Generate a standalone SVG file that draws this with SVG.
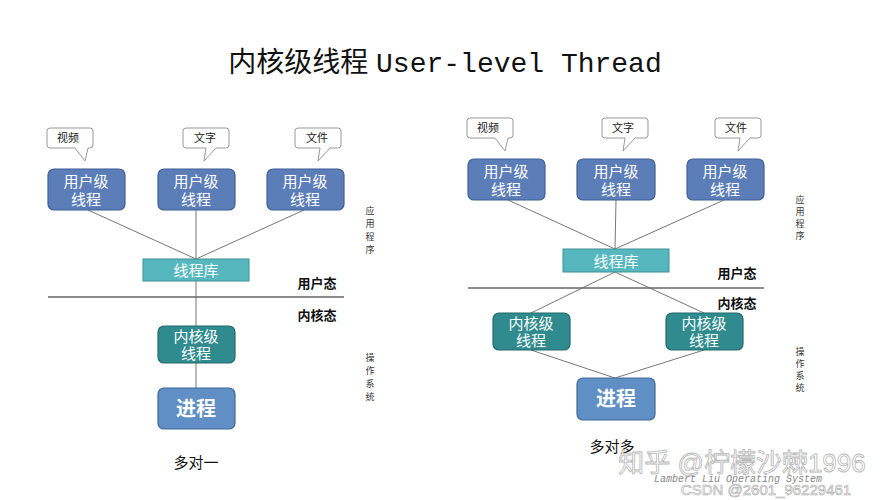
<svg xmlns="http://www.w3.org/2000/svg" width="889" height="500" viewBox="0 0 889 500">
<style>
text{font-family:"Liberation Sans","Noto Sans CJK SC",sans-serif;text-anchor:middle}
.u{fill:#5b7db8;stroke:#3f5f95;stroke-width:1.2}
.k{fill:#2f8b8e;stroke:#236a6c;stroke-width:1.2}
.p{fill:#5f8fc4;stroke:#3f6a99;stroke-width:1.2}
.lib{fill:#56b8be;stroke:#3f9096;stroke-width:1}
.w{fill:#fff;font-size:15px}
.pt{fill:#fff;font-size:20px;font-weight:bold}
.bub{fill:#fff;stroke:#999;stroke-width:1}
.bt{font-size:11px;fill:#222}
.st{font-size:13px;font-weight:bold;fill:#111}
.v{font-size:9px;fill:#333}
.c line{stroke:#777;stroke-width:1}
.mono{font-family:"Liberation Mono",monospace}
</style>
<rect width="889" height="500" fill="#fff"/>
<text x="445" y="72" font-size="28" fill="#111">内核级线程 <tspan class="mono">User-level Thread</tspan></text>

<g id="left-bubbles">
<path class="bub" d="M50 128h40a3 3 0 0 1 3 3v14a3 3 0 0 1-3 3h-2l-3 13-10-13h-25a3 3 0 0 1-3-3v-14a3 3 0 0 1 3-3z"/>
<text class="bt" x="68" y="142">视频</text>
<path class="bub" d="M186 128h40a3 3 0 0 1 3 3v14a3 3 0 0 1-3 3h-10l-12 13 2-13h-20a3 3 0 0 1-3-3v-14a3 3 0 0 1 3-3z"/>
<text class="bt" x="205" y="142">文字</text>
<path class="bub" d="M298 128h40a3 3 0 0 1 3 3v14a3 3 0 0 1-3 3h-8l-12 13 2-13h-22a3 3 0 0 1-3-3v-14a3 3 0 0 1 3-3z"/>
<text class="bt" x="317" y="142">文件</text>
</g>
<g class="c" id="left-connectors">
<line x1="88" y1="210" x2="196" y2="259"/><line x1="196" y1="210" x2="196" y2="259"/><line x1="304" y1="210" x2="196" y2="259"/>
<line x1="196" y1="281" x2="196" y2="326"/><line x1="196" y1="363" x2="196" y2="388"/>
<line x1="48" y1="297" x2="344" y2="297" style="stroke:#666;stroke-width:1.5"/>
</g>
<g id="lu1"><rect class="u" x="48" y="169" width="77" height="41" rx="6"/><text class="w" x="86" y="187">用户级</text><text class="w" x="86" y="205">线程</text></g>
<g id="lu2"><rect class="u" x="158" y="169" width="77" height="41" rx="6"/><text class="w" x="196" y="187">用户级</text><text class="w" x="196" y="205">线程</text></g>
<g id="lu3"><rect class="u" x="267" y="169" width="77" height="41" rx="6"/><text class="w" x="305" y="187">用户级</text><text class="w" x="305" y="205">线程</text></g>
<g id="llib"><rect class="lib" x="143" y="259" width="106" height="22"/><text class="w" x="196" y="276" font-size="14">线程库</text></g>
<g id="lk"><rect class="k" x="158" y="326" width="77" height="37" rx="6"/><text class="w" x="196" y="342">内核级</text><text class="w" x="196" y="359">线程</text></g>
<g id="lp"><rect class="p" x="158" y="388" width="77" height="41" rx="6"/><text class="pt" x="196" y="416">进程</text></g>
<g id="left-labels">
<text class="st" x="317" y="288">用户态</text><text class="st" x="317" y="320">内核态</text>
<text class="v" x="370" y="214">应</text><text class="v" x="370" y="227">用</text><text class="v" x="370" y="240">程</text><text class="v" x="370" y="253">序</text>
<text class="v" x="370" y="361">操</text><text class="v" x="370" y="374">作</text><text class="v" x="370" y="387">系</text><text class="v" x="370" y="400">统</text>
<text x="196" y="468" font-size="15" fill="#111">多对一</text>
</g>

<g id="right-bubbles">
<path class="bub" d="M470 118h40a3 3 0 0 1 3 3v14a3 3 0 0 1-3 3h-2l-3 13-10-13h-25a3 3 0 0 1-3-3v-14a3 3 0 0 1 3-3z"/>
<text class="bt" x="488" y="132">视频</text>
<path class="bub" d="M605 118h40a3 3 0 0 1 3 3v14a3 3 0 0 1-3 3h-10l-12 13 2-13h-20a3 3 0 0 1-3-3v-14a3 3 0 0 1 3-3z"/>
<text class="bt" x="623" y="132">文字</text>
<path class="bub" d="M718 118h40a3 3 0 0 1 3 3v14a3 3 0 0 1-3 3h-8l-12 13 2-13h-22a3 3 0 0 1-3-3v-14a3 3 0 0 1 3-3z"/>
<text class="bt" x="736" y="132">文件</text>
</g>
<g class="c" id="right-connectors">
<line x1="508" y1="200" x2="615" y2="249"/><line x1="616" y1="200" x2="615" y2="249"/><line x1="724" y1="200" x2="615" y2="249"/>
<line x1="615" y1="272" x2="531" y2="313"/><line x1="615" y1="272" x2="704" y2="313"/>
<line x1="531" y1="350" x2="615" y2="378"/><line x1="704" y1="350" x2="615" y2="378"/>
<line x1="468" y1="288" x2="764" y2="288" style="stroke:#666;stroke-width:1.5"/>
</g>
<g id="ru1"><rect class="u" x="468" y="159" width="77" height="41" rx="6"/><text class="w" x="506" y="177">用户级</text><text class="w" x="506" y="195">线程</text></g>
<g id="ru2"><rect class="u" x="577" y="159" width="78" height="41" rx="6"/><text class="w" x="616" y="177">用户级</text><text class="w" x="616" y="195">线程</text></g>
<g id="ru3"><rect class="u" x="687" y="159" width="77" height="41" rx="6"/><text class="w" x="725" y="177">用户级</text><text class="w" x="725" y="195">线程</text></g>
<g id="rlib"><rect class="lib" x="563" y="249" width="106" height="23"/><text class="w" x="616" y="267" font-size="14">线程库</text></g>
<g id="rk1"><rect class="k" x="493" y="313" width="77" height="37" rx="6"/><text class="w" x="531" y="329">内核级</text><text class="w" x="531" y="346">线程</text></g>
<g id="rk2"><rect class="k" x="666" y="313" width="77" height="37" rx="6"/><text class="w" x="704" y="329">内核级</text><text class="w" x="704" y="346">线程</text></g>
<g id="rp"><rect class="p" x="577" y="378" width="78" height="42" rx="6"/><text class="pt" x="616" y="406">进程</text></g>
<g id="right-labels">
<text class="st" x="737" y="278">用户态</text><text class="st" x="737" y="308">内核态</text>
<text class="v" x="800" y="203">应</text><text class="v" x="800" y="215">用</text><text class="v" x="800" y="227">程</text><text class="v" x="800" y="239">序</text>
<text class="v" x="800" y="355">操</text><text class="v" x="800" y="367">作</text><text class="v" x="800" y="379">系</text><text class="v" x="800" y="391">统</text>
<text x="612" y="452" font-size="15" fill="#111">多对多</text>
</g>
<g id="watermark">
<text x="742" y="472" font-size="26" fill="#fff" stroke="#aaa" stroke-width="0.8" opacity="0.85">知乎 @柠檬沙棘1996</text>
<text x="738" y="482" font-size="10" font-style="italic" fill="#888" class="mono">Lambert Liu  Operating System</text>
<text x="766" y="495" font-size="15" fill="#fff" stroke="#aaa" stroke-width="0.6">CSDN @2601_96229461</text>
</g>
</svg>
